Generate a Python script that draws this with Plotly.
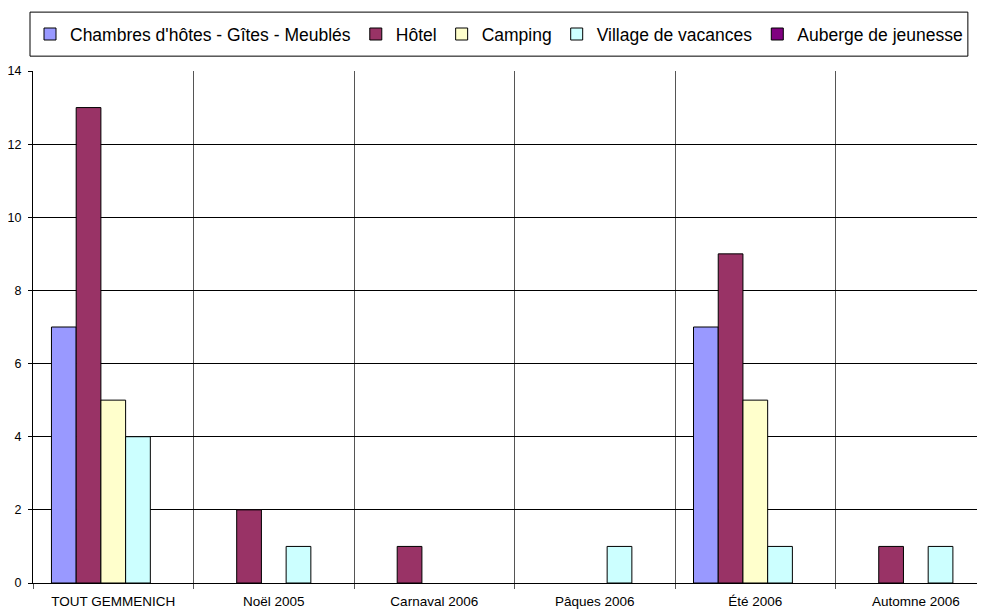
import plotly.graph_objects as go

categories = ["TOUT GEMMENICH", "Noël 2005", "Carnaval 2006", "Pâques 2006", "Été 2006", "Automne 2006"]
series_names = ["Chambres d'hôtes - Gîtes - Meublés", "Hôtel", "Camping", "Village de vacances", "Auberge de jeunesse"]
chambres = [7, 0, 0, 0, 7, 0]
hotel = [13, 2, 1, 0, 9, 1]
camping = [5, 0, 0, 0, 5, 0]
village = [4, 1, 0, 1, 1, 1]
auberge = [0, 0, 0, 0, 0, 0]
y_ticks = [0, 2, 4, 6, 8, 10, 12, 14]

colors = ["#9999FF", "#993366", "#FFFFCC", "#CCFFFF", "#800080"]
values = [chambres, hotel, camping, village, auberge]

fig = go.Figure()
for name, vals, col in zip(series_names, values, colors):
    fig.add_trace(go.Bar(
        x=categories, y=[v if v else None for v in vals], name=name,
        marker=dict(color=col, line=dict(color="#000000", width=1)),
        showlegend=True,
    ))

font_family = "Liberation Sans, Arial, sans-serif"
fig.update_layout(
    width=985, height=609,
    margin=dict(l=25, r=8, t=63, b=34, autoexpand=False),
    paper_bgcolor="white", plot_bgcolor="white",
    barmode="group", bargap=0.23, bargroupgap=0,
    font=dict(family=font_family, color="black"),
    showlegend=True,
    legend=dict(
        orientation="h", x=0.4895, xanchor="center", y=1.072, yanchor="middle",
        font=dict(size=17.5, family=font_family, color="black"),
        bgcolor="rgba(0,0,0,0)", borderwidth=0,
        itemwidth=30,
    ),
    shapes=[dict(
        type="rect", xref="paper", yref="paper",
        x0=-0.00315, x1=0.982, y0=1.029, y1=1.115,
        line=dict(color="black", width=1), fillcolor="rgba(0,0,0,0)", layer="above",
    )],
)
fig.update_xaxes(
    range=[-0.5, 5.431], automargin=False,
    tickson="boundaries", ticks="outside", ticklen=5, tickcolor="#555555",
    showgrid=True, gridcolor="#555555", gridwidth=1,
    showline=True, linecolor="black", linewidth=1,
    ticklabelstandoff=6,
    tickfont=dict(size=13.5, family=font_family, color="black"),
)
fig.update_yaxes(
    range=[0, 14], tickvals=y_ticks, automargin=False,
    ticks="outside", ticklen=4, tickcolor="black",
    showgrid=True, gridcolor="black", gridwidth=1,
    showline=True, linecolor="black", linewidth=1,
    zeroline=False, ticklabelstandoff=4,
    tickfont=dict(size=12.5, family=font_family, color="black"),
)

fig.write_html("out.html")
